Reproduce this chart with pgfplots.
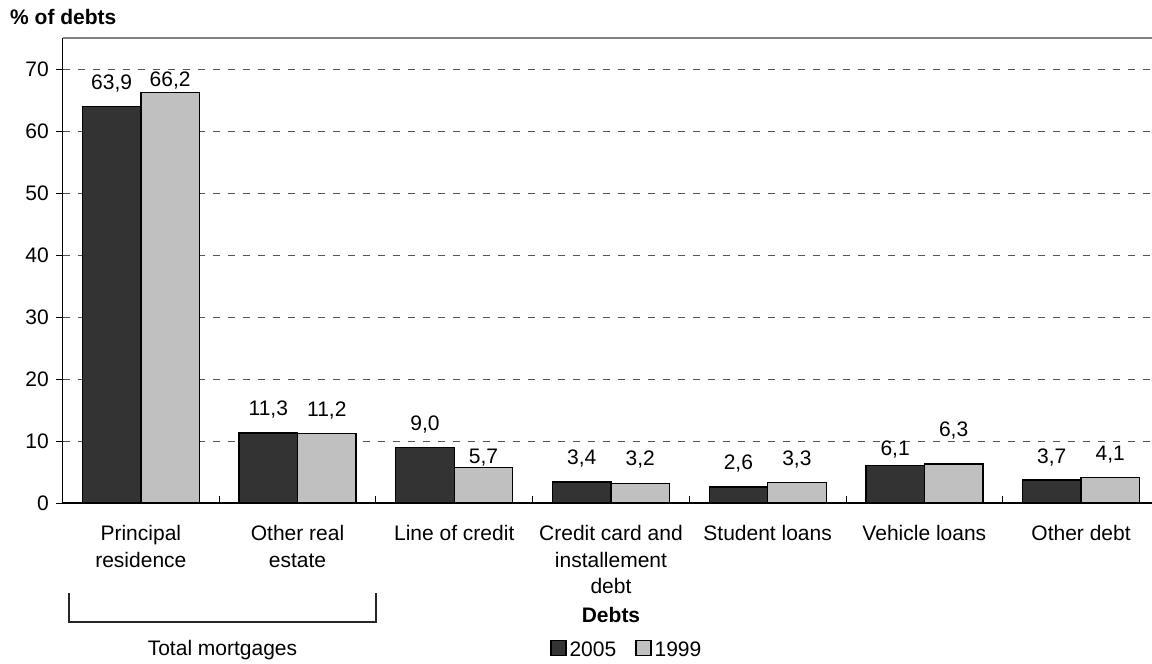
\documentclass[border=0pt]{standalone}
\usepackage{pgfplots}
\pgfplotsset{compat=1.18}
\usepackage{pgfplotstable}
\usepackage{fontspec}
\setmainfont{Liberation Sans}
\definecolor{darkbar}{HTML}{333333}
\definecolor{lightbar}{HTML}{C0C0C0}
\definecolor{gridgray}{HTML}{555555}
\newcommand\fsz{\fontsize{21bp}{26.5bp}\selectfont}

% share of debts by type; dy = distance of the value label above the bar (bp)
\pgfplotstableread{
x y dy
0 63.9 17.5
1 11.3 17
2 9.0 17
3 3.4 17
4 2.6 17
5 6.1 10
6 3.7 17
}\debtsA
\pgfplotstableread{
x y dy
0 66.2 6
1 11.2 17
2 5.7 4.5
3 3.2 18
4 3.3 17.5
5 6.3 27
6 4.1 17
}\debtsB

\begin{document}
\begin{tikzpicture}[font=\fsz]
\path[use as bounding box] (0,0) rectangle (1152bp,664bp);
\begin{axis}[
  at={(62.5bp,161bp)}, anchor=south west,
  width=1089.5bp, height=465bp, scale only axis,
  xmin=-0.5, xmax=6.4528, ymin=0, ymax=75,
  axis x line*=bottom, axis y line*=left,
  axis line style={black, line width=1.2bp},
  clip=false,
  ytick={0,10,...,70},
  /pgf/number format/assume math mode=true,
  tick label style={font=\fsz},
  tick align=outside,
  major tick length=6.5bp,
  minor tick length=6.5bp,
  major y tick style={black, line width=1bp},
  yticklabel style={inner sep=0pt, xshift=-7bp},
  ymajorgrids,
  grid style={gridgray, line width=0.9bp, dash pattern=on 7bp off 8bp},
  xtick={0,...,6},
  xticklabels={{Principal\\residence},{Other real\\estate},{Line of credit},{Credit card and\\installement\\debt},{Student loans},{Vehicle loans},{Other debt}},
  xticklabel style={align=center, anchor=north, inner sep=0pt, yshift=-16bp},
  major x tick style={draw=none},
  minor xtick={0.5,1.5,2.5,3.5,4.5,5.5},
  minor x tick style={black, line width=1bp, yshift=6.5bp},
  ybar=0pt, bar width=58.5bp,
  nodes near coords={\pgfmathprintnumber[fixed,fixed zerofill,precision=1,use comma,assume math mode=true]{\pgfplotspointmeta}},
  visualization depends on={\thisrow{dy} \as \dy},
  every node near coord/.append style={font=\fsz, anchor=base, inner sep=0pt, yshift=\dy bp, black},
  legend columns=2,
  legend style={at={(0.517,-0.314)}, anchor=center, draw=none, fill=none,
    font=\fsz, inner sep=0pt, nodes={inner sep=0pt},
    /tikz/every odd column/.append style={column sep=3bp},
    /tikz/every even column/.append style={column sep=19bp}},
  legend image code/.code={\draw[#1] (0bp,-6bp) rectangle (15bp,9bp);},
]
\addplot[fill=darkbar, draw=black, line width=1.3bp] table[x=x,y=y] {\debtsA};
\addlegendentry{2005}
\addplot[fill=lightbar, draw=black, line width=1.3bp] table[x=x,y=y] {\debtsB};
\addlegendentry{1999}
\draw[gray, line width=1.2bp] (rel axis cs:0,1) -- (rel axis cs:1,1);
\end{axis}
% axis titles and the bracket grouping the two mortgage categories
\node[anchor=base west, font=\fsz\bfseries, inner sep=0pt] at (10bp,639bp) {\% of debts};
\node[anchor=base, font=\fsz\bfseries, inner sep=0pt] at (611bp,41bp) {Debts};
\draw[black!85, line width=1.2bp] (69bp,71bp) -- (69bp,42bp) -- (376bp,42bp) -- (376bp,71bp);
\node[anchor=base, inner sep=0pt] at (222.5bp,9bp) {Total mortgages};
\end{tikzpicture}
\end{document}
